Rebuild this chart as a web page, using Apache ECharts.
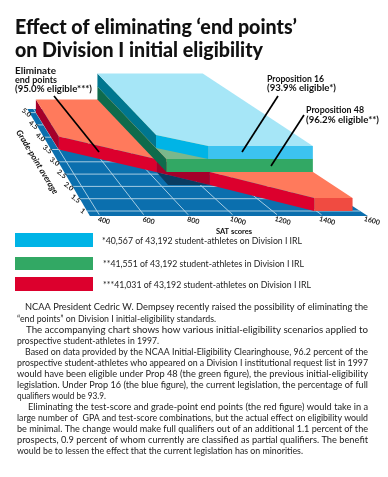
<!DOCTYPE html>
<html><head><meta charset="utf-8">
<style>html,body{margin:0;padding:0;background:#fff}#c{width:388px;height:477px}</style>
<script src="https://cdn.jsdelivr.net/npm/echarts@6/dist/echarts.min.js"></script></head>
<body><div id="c"></div>
<script>
const satTicks=[400,600,800,1000,1200,1400,1600];
const gpaTicks=[1,1.5,2,2.5,3,3.5,4,4.5,5];
const gpaLabels=['1','1.5','2.0','2.5','3.0','3.5','4.0','4.5','5.0'];
const eliminateOutline=[[400,5],[400,3.5],[844,2.58],[1048,2.06],[1390,1],[1565,1],[1565,5]];
const prop48Outline=[[830,5],[830,2.06],[1565,2.06],[1565,5]];
const prop16Outline=[[830,5],[830,2.5],[1040,2.06],[1565,2.06],[1565,5]];
const shadowOutline=[[844,2.58],[838,2.06],[1048,2.06]];
const floorOutline=[[355,5.15],[1600,5.15],[1600,0.8],[355,0.8]];
const eliminateWalls=['#a5002a','#dc002d','#a5002a','#dc002d','#f04b41',null,null];
const prop48Walls=['#0f6b4c','#32a864',null,null];
const prop16Walls=['#00768f','#00b4e6','#3cc3f0',null,null];
const legendItems=[
 {color:'#00b4e6',text:'*40,567 of 43,192 student-athletes on Division I IRL'},
 {color:'#32a864',text:'**41,551 of 43,192 student-athletes in Division I IRL'},
 {color:'#dc002d',text:'***41,031 of 43,192 student-athletes on Division I IRL'}];
const titleLines=['Effect of eliminating ‘end points’','on Division I initial eligibility'];
const bodyLines=[
 'NCAA President Cedric W. Dempsey recently raised the possibility of eliminating the',
 '“end points” on Division I initial-eligibility standards.',
 'The accompanying chart shows how various initial-eligibility scenarios applied to',
 'prospective student-athletes in 1997.',
 'Based on data provided by the NCAA Initial-Eligibility Clearinghouse, 96.2 percent of the',
 'prospective student-athletes who appeared on a Division I institutional request list in 1997',
 'would have been eligible under Prop 48 (the green figure), the previous initial-eligibility',
 'legislation. Under Prop 16 (the blue figure), the current legislation, the percentage of full',
 'qualifiers would be 93.9.',
 'Eliminating the test-score and grade-point end points (the red figure) would take in a',
 'large number of  GPA and test-score combinations, but the actual effect on eligibility would',
 'be minimal. The change would make full qualifiers out of an additional 1.1 percent of the',
 'prospects, 0.9 percent of whom currently are classified as partial qualifiers. The benefit',
 'would be to lessen the effect that the current legislation has on minorities.'];

const W=388,H=477, gL=100,gW=268,gB=211,gT=112.6, LIFT=13;
function warp(p,lift){
  const dy=216-p[1], xL=100-0.62*dy, xR=368-1.55*dy;
  return [xL+(p[0]-gL)/gW*(xR-xL), p[1]-(lift||0)*LIFT];
}
function pt(api,d,lift){return warp(api.coord(d),lift);}
function poly(points,fill){return {type:'polygon',shape:{points},style:{fill},silent:true};}

function prism(name,outline,walls,base,topColor){
  return {type:'custom',name,coordinateSystem:'cartesian2d',clip:false,silent:true,animation:false,
    data:outline,
    renderItem(params,api){
      const i=params.dataIndex, a=[api.value(0),api.value(1)], b=outline[(i+1)%outline.length];
      const ch=[];
      if(walls[i]) ch.push(poly([pt(api,a,base+1),pt(api,b,base+1),pt(api,b,base),pt(api,a,base)],walls[i]));
      if(i===outline.length-1) ch.push(poly(outline.map(d=>pt(api,d,base+1)),topColor));
      return {type:'group',children:ch};
    }};
}
const floorSeries={type:'custom',name:'Floor',coordinateSystem:'cartesian2d',clip:false,silent:true,animation:false,
  data:[0],
  renderItem(params,api){
    const ch=[poly(floorOutline.map(d=>pt(api,d,0)),'#0b6fae')];
    const line=(a,b)=>({type:'line',shape:{x1:a[0],y1:a[1],x2:b[0],y2:b[1]},style:{stroke:'#b5d6e8',lineWidth:0.9},silent:true});
    gpaTicks.forEach(g=>ch.push(line(pt(api,[355,g],0),pt(api,[1600,g],0))));
    satTicks.slice(0,-1).forEach(s=>ch.push(line(pt(api,[s,0.85],0),pt(api,[s,5.15],0))));
    ch.push(poly(shadowOutline.map(d=>pt(api,d,0)),'#0a3d62'));
    gpaTicks.forEach((g,i)=>{const p=pt(api,[335,g],0);
      ch.push({type:'text',x:p[0],y:p[1],rotation:-38*Math.PI/180,silent:true,
        style:{text:gpaLabels[i],font:'bold 7px Lato',fill:'#222',textAlign:'center',textVerticalAlign:'middle'}});});
    return {type:'group',children:ch};
  }};

const meas=document.createElement('canvas').getContext('2d');
function fit(text,x,y,target,font,fill){
  meas.font=font; const w=meas.measureText(text).width;
  return {type:'text',x,y,scaleX:target?target/w:1,silent:true,
    style:{text,font,fill:fill||'#1a1a1a',textAlign:'left',textVerticalAlign:'middle'}};
}
const g=[];
const tf='900 21px Lato, "Noto Sans"';
g.push(fit(titleLines[0],15,27,282,tf,'#111'));
g.push(fit(titleLines[1],15,50,248,tf,'#111'));
const af='bold 8.5px Lato';
[['Eliminate',15,71,41],['end points',15,80,42],['(95.0% eligible***)',15,89,77],
 ['Proposition 16',267,79,57],['(93.9% eligible*)',267,88,69],
 ['Proposition 48',306,110,58],['(96.2% eligible**)',306,120,73]]
 .forEach(a=>g.push(fit(a[0],a[1],a[2],a[3],af,'#111')));
[[54,96,99,152],[278,96,242,152],[304,115,271,166]].forEach(l=>g.push({type:'line',z:20,silent:true,
  shape:{x1:l[0],y1:l[1],x2:l[2],y2:l[3]},style:{stroke:'#000',lineWidth:1.7}}));
const legY=[[233,14,241],[257,13,264],[277,14,285]], legX=[[102,200],[103,201],[103,208]];
legendItems.forEach((it,i)=>{
  g.push({type:'rect',silent:true,shape:{x:15,y:legY[i][0],width:78,height:legY[i][1]},style:{fill:it.color}});
  g.push(fit(it.text,legX[i][0],legY[i][2],legX[i][1],'9px Lato','#222'));
});
const by=[307,319,330,341,352,363,374,385,396,407,418,429,440,451];
const bx=[25,17,26,17,25,17,17,17,17,28,17,17,17,17];
const be=[368,216,368,159,368,368,368,368,106,368,368,368,368,303];
bodyLines.forEach((t,i)=>g.push(fit(t,bx[i],by[i],be[i]-bx[i],'9.8px Lato','#222')));
g.push({type:'text',x:37,y:162,rotation:-59*Math.PI/180,silent:true,
  style:{text:'Grade-point average',font:'italic bold 8.5px Lato',fill:'#111',textAlign:'center',textVerticalAlign:'middle'}});

const chart=echarts.init(document.getElementById('c'),null,{renderer:'canvas',width:W,height:H});
chart.setOption({animation:false,backgroundColor:'#fff',
  grid:{left:gL,top:gT,width:gW,height:gB-gT},
  xAxis:{type:'value',min:400,max:1600,interval:200,name:'SAT scores',nameLocation:'middle',nameGap:17,
    nameTextStyle:{fontWeight:'bold',fontSize:7.5,fontFamily:'Lato',color:'#111'},
    axisLine:{show:false},axisTick:{show:false},splitLine:{show:false},
    axisLabel:{fontSize:7,fontWeight:'bold',fontFamily:'Lato',color:'#222',margin:5,rotate:-15,align:'center',verticalAlign:'top',padding:[0,0,0,10],formatter:v=>String(v),hideOverlap:false}},
  yAxis:{type:'value',min:1,max:5,interval:0.5,show:false,splitLine:{show:false}},
  graphic:{elements:g},
  series:[floorSeries,
    prism('Eliminate end points (95.0% eligible)',eliminateOutline,eliminateWalls,0,'#ff7a5c'),
    prism('Proposition 48 (96.2% eligible)',prop48Outline,prop48Walls,1,'#7ab88c'),
    prism('Proposition 16 (93.9% eligible)',prop16Outline,prop16Walls,2,'#a6e6f7')]
});
</script></body></html>
